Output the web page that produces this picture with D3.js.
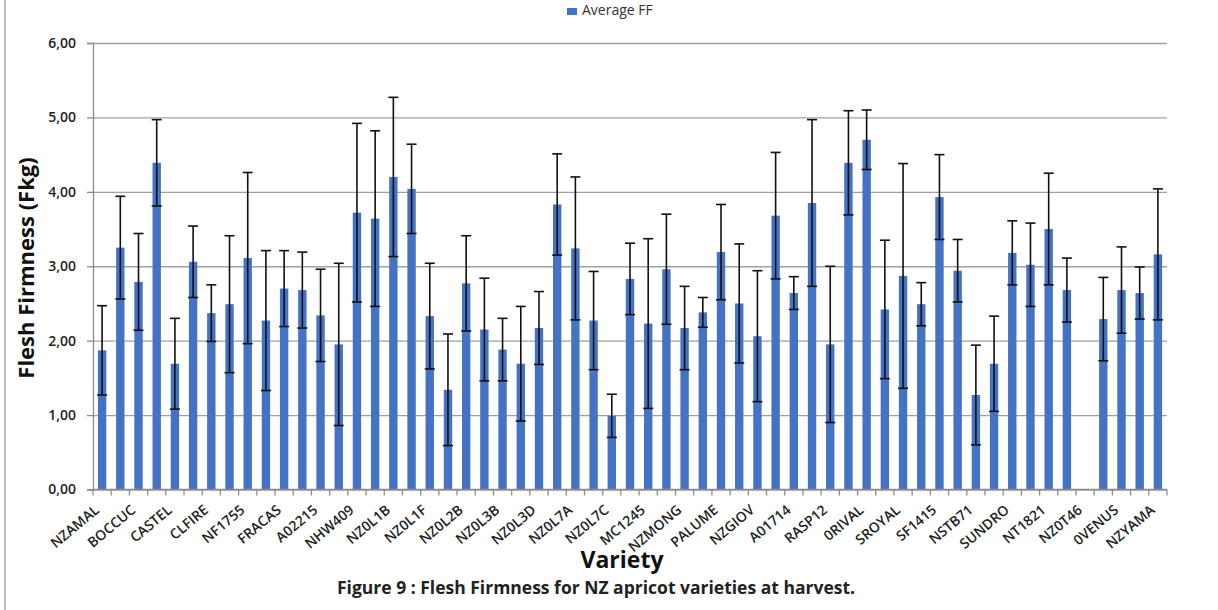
<!DOCTYPE html>
<html>
<head>
<meta charset="utf-8">
<script src="https://cdn.jsdelivr.net/npm/d3@7"></script>
<style>
  body { margin: 0; background: #fff; }
  svg { display: block; font-family: "Open Sans", "DejaVu Sans", sans-serif; }
</style>
</head>
<body>
<svg id="chart" width="1218" height="610"></svg>
<script>
// visible category labels (Excel shows every other one)
var labels = ["NZAMAL", "BOCCUC", "CASTEL", "CLFIRE", "NF1755", "FRACAS", "A02215", "NHW409",
  "NZ0L1B", "NZ0L1F", "NZ0L2B", "NZ0L3B", "NZ0L3D", "NZ0L7A", "NZ0L7C", "MC1245", "NZMONG",
  "PALUME", "NZGIOV", "A01714", "RASP12", "0RIVAL", "SROYAL", "SF1415", "NSTB71", "SUNDRO",
  "NT1821", "NZ0T46", "0VENUS", "NZYAMA"];

// average flesh firmness per variety (59 bars)
var averageFF = [1.87, 3.25, 2.79, 4.39, 1.69, 3.06, 2.37, 2.49, 3.11, 2.27,
  2.70, 2.68, 2.34, 1.95, 3.72, 3.64, 4.20, 4.04, 2.33, 1.34,
  2.77, 2.15, 1.88, 1.69, 2.17, 3.83, 3.24, 2.27, 0.99, 2.83,
  2.23, 2.96, 2.17, 2.38, 3.19, 2.50, 2.06, 3.68, 2.64, 3.85,
  1.95, 4.39, 4.70, 2.42, 2.87, 2.49, 3.93, 2.94, 1.27, 1.69,
  3.18, 3.02, 3.50, 2.68, null, 2.29, 2.68, 2.64, 3.16];

// standard deviation (error bars)
var stdDev = [0.60, 0.69, 0.65, 0.58, 0.61, 0.48, 0.38, 0.92, 1.15, 0.94,
  0.51, 0.51, 0.62, 1.09, 1.20, 1.18, 1.07, 0.60, 0.71, 0.75,
  0.64, 0.69, 0.42, 0.77, 0.49, 0.68, 0.96, 0.66, 0.29, 0.48,
  1.14, 0.74, 0.56, 0.20, 0.64, 0.80, 0.88, 0.85, 0.22, 1.12,
  1.05, 0.70, 0.40, 0.93, 1.51, 0.29, 0.57, 0.42, 0.67, 0.64,
  0.43, 0.56, 0.75, 0.43, null, 0.56, 0.58, 0.35, 0.88];

var yTicks = [0, 1, 2, 3, 4, 5, 6];

var svg = d3.select("#chart");
var plotL = 93, plotR = 1167, plotT = 43, plotB = 489.5;
var blue = "#4472c4";

var idx = d3.range(averageFF.length);
var x = d3.scaleBand().domain(idx).range([plotL, plotR]).paddingInner(0.54).paddingOuter(0.27);
var y = d3.scaleLinear().domain([0, 6]).range([plotB, plotT]);

// outer chart border on the left
svg.append("line")
  .attr("x1", 5).attr("x2", 5).attr("y1", 0).attr("y2", 610)
  .attr("stroke", "#a6a6a6").attr("stroke-width", 1.5);

// gridlines
svg.append("g")
  .attr("transform", "translate(" + plotL + ",0)")
  .call(d3.axisLeft(y).tickValues(yTicks).tickSize(-(plotR - plotL)).tickFormat(""))
  .call(function(g) {
    g.select(".domain").remove();
    g.selectAll("line").attr("stroke", "#a0a0a0").attr("stroke-width", 1.3);
  });

// y axis
svg.append("g")
  .attr("transform", "translate(" + plotL + ",0)")
  .call(d3.axisLeft(y).tickValues(yTicks).tickSize(6).tickPadding(11)
    .tickFormat(function(d) { return d3.format(".2f")(d).replace(".", ","); }))
  .call(function(g) {
    g.select(".domain").attr("stroke", "#8c8c8c").attr("stroke-width", 1.3);
    g.selectAll("line").attr("stroke", "#8c8c8c").attr("stroke-width", 1.3);
    g.selectAll("text").attr("font-size", 14).attr("font-weight", 600)
      .attr("fill", "#1f1f1f").attr("font-family", "Open Sans, sans-serif");
  });

// bars
var data = idx.map(function(i) { return {i: i, v: averageFF[i], e: stdDev[i]}; })
  .filter(function(d) { return d.v != null; });

svg.append("g").selectAll("rect")
  .data(data).join("rect")
  .attr("x", function(d) { return x(d.i); })
  .attr("width", x.bandwidth())
  .attr("y", function(d) { return y(d.v); })
  .attr("height", function(d) { return y(0) - y(d.v); })
  .attr("fill", blue);

// error bars
var cap = 5;
var err = svg.append("g").attr("stroke", "#111").attr("stroke-width", 1.6);
data.forEach(function(d) {
  var cx = x(d.i) + x.bandwidth() / 2;
  var y1 = y(d.v + d.e), y2 = y(d.v - d.e);
  err.append("line").attr("x1", cx).attr("x2", cx).attr("y1", y1).attr("y2", y2);
  err.append("line").attr("x1", cx - cap).attr("x2", cx + cap).attr("y1", y1).attr("y2", y1);
  err.append("line").attr("x1", cx - cap).attr("x2", cx + cap).attr("y1", y2).attr("y2", y2);
});

// x axis line and category boundary ticks
var off = (x.step() - x.bandwidth()) / 2;
var xa = svg.append("g").attr("stroke", "#8c8c8c").attr("stroke-width", 1.3);
xa.append("line").attr("x1", plotL).attr("x2", plotR).attr("y1", plotB).attr("y2", plotB);
idx.concat([idx.length]).forEach(function(i) {
  var bx = i < idx.length ? x(i) - off : plotR;
  xa.append("line").attr("x1", bx).attr("x2", bx).attr("y1", plotB).attr("y2", plotB + 6);
});

// category labels, every other bar
svg.append("g").selectAll("text")
  .data(labels).join("text")
  .attr("transform", function(d, k) {
    var cx = x(k * 2) + x.bandwidth() / 2;
    return "translate(" + (cx - 2) + "," + (plotB + 22) + ") rotate(-40)";
  })
  .attr("text-anchor", "end")
  .attr("font-size", 14)
  .attr("font-weight", 600)
  .attr("fill", "#1f1f1f")
  .text(function(d) { return d; });

// axis titles
svg.append("text")
  .attr("transform", "translate(34,268) rotate(-90)")
  .attr("text-anchor", "middle")
  .attr("font-size", 22).attr("font-weight", 700).attr("fill", "#111")
  .text("Flesh Firmness (Fkg)");

svg.append("text")
  .attr("x", 622).attr("y", 568)
  .attr("text-anchor", "middle")
  .attr("font-size", 23).attr("font-weight", 700).attr("fill", "#111")
  .text("Variety");

svg.append("text")
  .attr("x", 596).attr("y", 594)
  .attr("text-anchor", "middle")
  .attr("font-size", 17.5).attr("font-weight", 700).attr("fill", "#222")
  .text("Figure 9 : Flesh Firmness for NZ apricot varieties at harvest.");

// legend at the top edge
svg.append("rect").attr("x", 567).attr("y", 8).attr("width", 10).attr("height", 7).attr("fill", blue);
svg.append("text")
  .attr("x", 582).attr("y", 15)
  .attr("font-size", 14).attr("fill", "#333")
  .text("Average FF");
</script>
</body>
</html>
